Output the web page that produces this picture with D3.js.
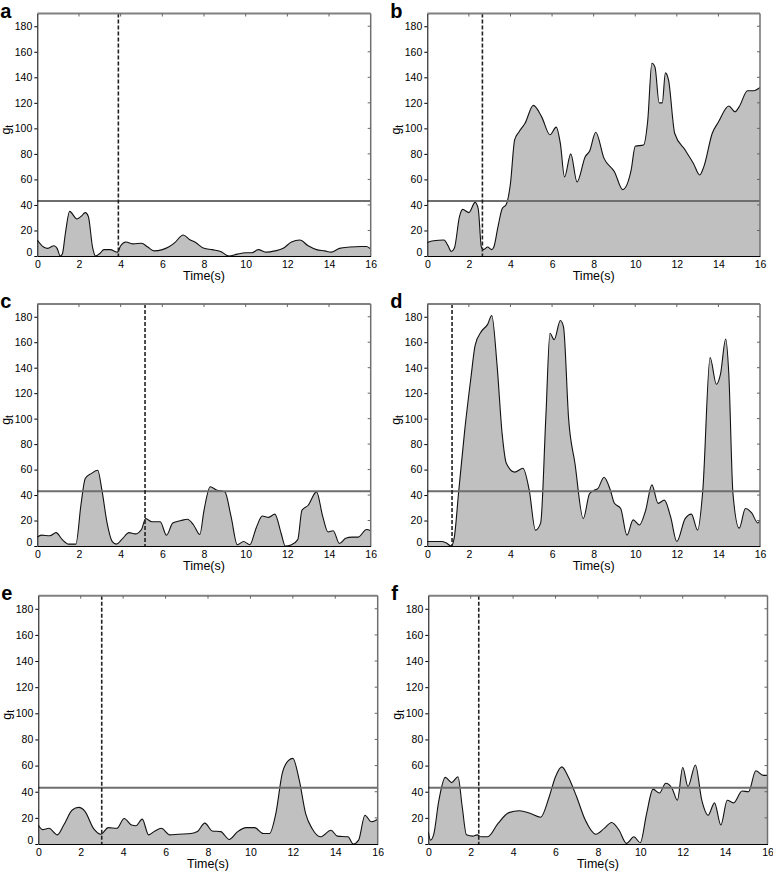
<!DOCTYPE html>
<meta charset="utf-8">
<script src="https://d3js.org/d3.v7.min.js"></script>
<style>
  body { margin: 0; background: #fff; }
  text { font-family: "Liberation Sans", Arial, sans-serif; fill: #000; }
</style>
<svg id="fig" width="773" height="872"></svg>
<script>
// axis ticks
var xTicks = [0, 2, 4, 6, 8, 10, 12, 14, 16];
var yTicks = [0, 20, 40, 60, 80, 100, 120, 140, 160, 180];
var threshold = 43;

// panel a
var aTime = [0, 0.3, 0.5, 0.8, 0.95, 1.1, 1.2, 1.35, 1.55, 1.9, 2.1, 2.3, 2.45, 2.65, 2.8, 3.0, 3.2, 3.5, 3.85, 4.0, 4.25, 4.6, 5.0, 5.3, 5.6, 6.0, 6.3, 6.6, 7.0, 7.3, 7.6, 8.0, 8.4, 8.8, 9.2, 9.6, 10.0, 10.3, 10.6, 11.0, 11.4, 11.8, 12.2, 12.6, 13.0, 13.4, 13.8, 14.1, 14.5, 15.0, 15.5, 15.8, 16];
var aVal  = [12.5, 7, 6, 8, 6, 0, 1.5, 18, 35, 29, 31, 34, 31, 7, 0, 2, 5, 5, 3, 8, 11, 9.5, 10, 7, 4, 5, 7, 10.5, 16.5, 13, 10.5, 6, 5, 3.5, 0, 1.5, 2.5, 2.5, 5, 3, 4, 6, 11, 12.5, 8, 5, 4, 3, 6, 7, 7.5, 7.5, 5.5];

// panel b
var bTime = [0, 0.3, 0.8, 1.0, 1.15, 1.3, 1.55, 1.7, 2.0, 2.3, 2.45, 2.6, 2.7, 2.9, 3.1, 3.2, 3.4, 3.6, 3.8, 4.0, 4.2, 4.4, 4.7, 5.1, 5.5, 5.9, 6.2, 6.4, 6.6, 6.9, 7.2, 7.6, 7.8, 8.1, 8.5, 9.0, 9.4, 9.8, 10.0, 10.4, 10.6, 10.8, 10.95, 11.15, 11.3, 11.45, 11.6, 11.9, 12.4, 12.8, 13.1, 13.3, 13.7, 14.0, 14.5, 14.8, 15.0, 15.4, 15.7, 16];
var bVal  = [10.5, 12, 12.5, 8, 3.5, 6, 31, 36.5, 34, 42, 37, 7, 5, 7, 5, 7, 23, 37, 40.5, 57, 91, 97, 104, 118, 109, 95, 101, 88, 62, 80, 58, 78, 82, 97, 76.5, 66, 52, 67, 86, 87, 106, 151, 148, 120, 120, 143.5, 138, 96, 83, 72.5, 63.5, 70, 96, 105, 117.5, 113, 117, 129.5, 129.5, 132];

// panel c
var cTime = [0, 0.2, 0.6, 0.9, 1.2, 1.5, 1.85, 2.1, 2.3, 2.6, 2.9, 3.1, 3.35, 3.6, 3.8, 4.1, 4.4, 4.7, 5.0, 5.2, 5.5, 5.9, 6.2, 6.5, 6.9, 7.2, 7.5, 7.8, 8.0, 8.3, 8.6, 9.0, 9.3, 9.6, 9.9, 10.2, 10.5, 10.8, 11.1, 11.4, 11.7, 11.9, 12.2, 12.5, 12.7, 13.0, 13.4, 13.7, 13.95, 14.2, 14.5, 14.8, 15.1, 15.4, 15.8, 16];
var cVal  = [7, 8.5, 8, 10.5, 5, 1.5, 1.5, 33, 53, 57, 59.5, 44, 18, 3.5, 1.5, 6, 10.5, 9.5, 13, 21.5, 19, 19, 8.5, 18, 20, 21, 16.5, 9, 28, 46.5, 44, 42.5, 23, 1, 3.5, 1, 14, 23.5, 22.5, 25, 10, 0, 1, 5, 28, 32, 42.5, 23, 11, 12, 2, 6, 7, 7, 13, 12];

// panel d
var dTime = [0, 0.7, 0.9, 1.15, 1.3, 1.5, 1.8, 2.1, 2.3, 2.6, 2.9, 3.1, 3.35, 3.6, 3.8, 4.2, 4.6, 4.9, 5.2, 5.45, 5.7, 5.9, 6.1, 6.4, 6.55, 6.8, 7.1, 7.5, 7.8, 8.0, 8.2, 8.5, 8.8, 9.0, 9.3, 9.6, 9.9, 10.2, 10.5, 10.8, 11.1, 11.4, 11.7, 12.0, 12.4, 12.7, 13.0, 13.25, 13.6, 13.9, 14.1, 14.35, 14.5, 14.7, 15.0, 15.3, 15.6, 15.9, 16];
var dVal  = [3.5, 3.5, 2.5, 0, 7, 41, 91, 132.5, 157.5, 168.5, 174, 181, 143, 88, 65, 58, 61, 44, 12.5, 18, 101, 167, 162, 177, 172, 99, 65, 21.5, 41, 43.5, 45, 54, 44, 33.5, 29.5, 8.5, 20.5, 16.5, 28, 48, 33.5, 36, 23, 3.5, 21.5, 25, 12.5, 44, 148, 127, 135, 162.5, 135, 41, 14, 29.5, 26, 18, 20.5];

// panel e
var eTime = [0, 0.2, 0.5, 0.9, 1.2, 1.6, 1.9, 2.2, 2.6, 2.95, 3.3, 3.7, 4.05, 4.4, 4.6, 4.9, 5.2, 5.5, 5.8, 6.2, 6.6, 7.2, 7.5, 7.85, 8.2, 8.6, 9.0, 9.4, 9.8, 10.2, 10.6, 10.9, 11.2, 11.5, 11.8, 12.0, 12.3, 12.6, 12.9, 13.3, 13.8, 14.1, 14.6, 14.85, 15.1, 15.4, 15.7, 16];
var eVal  = [14.5, 11, 12, 7, 14.5, 26, 28, 25, 12, 7.5, 12.5, 12, 19.5, 14.5, 14, 19, 7, 10, 12, 7, 7.5, 8, 9.5, 16, 10, 9.5, 3.5, 9.5, 12.5, 12.5, 8, 8, 23.5, 54, 64, 65.5, 49, 23.5, 12, 5.5, 10.5, 6, 5.5, 0, 3, 22, 17, 19];

// panel f
var fTime = [0, 0.1, 0.25, 0.5, 0.8, 1.1, 1.4, 1.6, 1.8, 2.1, 2.3, 2.5, 2.8, 3.3, 3.8, 4.3, 4.8, 5.3, 5.7, 6.0, 6.3, 6.6, 7.0, 7.4, 7.9, 8.3, 8.65, 9.0, 9.35, 9.7, 10.0, 10.3, 10.6, 10.9, 11.2, 11.5, 11.75, 12.0, 12.25, 12.6, 12.9, 13.2, 13.5, 13.8, 14.1, 14.4, 14.8, 15.1, 15.45, 15.8, 16];
var fVal  = [9.5, 3, 7, 33.5, 51, 47, 51.5, 28.5, 7, 6, 7, 5.5, 5.5, 16, 24, 25.5, 23.5, 20.5, 36, 51.5, 59, 51.5, 36, 18.5, 7.5, 12, 16.5, 10.5, 0.5, 5.5, 1, 23.5, 42, 39, 46.5, 42.5, 33.5, 58.5, 44, 60.5, 33.5, 22, 31.5, 14.5, 33.5, 31.5, 40.5, 40, 56, 52.5, 52.5];

// onset marker (dashed line) per panel
var letters = ["a", "b", "c", "d", "e", "f"];
var onsets = [3.89, 2.65, 5.17, 1.19, 2.99, 2.38];
var times = [aTime, bTime, cTime, dTime, eTime, fTime];
var values = [aVal, bVal, cVal, dVal, eVal, fVal];

// panel placement
var boxes = [
  {l: 37.3, r: 370.7, t: 13.5, b: 256},
  {l: 427.3, r: 760, t: 13.5, b: 256},
  {l: 37.3, r: 370.7, t: 304, b: 546},
  {l: 427.3, r: 760, t: 304, b: 546},
  {l: 38.3, r: 377.7, t: 595.7, b: 844},
  {l: 428.3, r: 767.5, t: 595.7, b: 844}
];

var svg = d3.select("#fig");

boxes.forEach(function(bx, i) {
  var x = d3.scaleLinear().domain([0, 16]).range([bx.l, bx.r]);
  var y = d3.scaleLinear().domain([0, 190]).range([bx.b, bx.t]);
  var g = svg.append("g");
  var data = times[i].map(function(t, k) { return [t, values[i][k]]; });

  g.append("clipPath").attr("id", "clip" + i)
    .append("rect").attr("x", bx.l).attr("y", bx.t)
    .attr("width", bx.r - bx.l).attr("height", bx.b - bx.t);

  var area = d3.area().x(d => x(d[0])).y0(y(0)).y1(d => y(d[1])).curve(d3.curveMonotoneX);
  var line = d3.line().x(d => x(d[0])).y(d => y(d[1])).curve(d3.curveMonotoneX);

  var plot = g.append("g").attr("clip-path", "url(#clip" + i + ")");
  plot.append("path").datum(data).attr("d", area).attr("fill", "#c0c0c0");
  plot.append("path").datum(data).attr("d", line)
    .attr("fill", "none").attr("stroke", "#111").attr("stroke-width", 1.1);

  // threshold
  g.append("line")
    .attr("x1", bx.l).attr("x2", bx.r)
    .attr("y1", y(threshold)).attr("y2", y(threshold))
    .attr("stroke", "#6e6e6e").attr("stroke-width", 2);

  // onset
  g.append("line")
    .attr("x1", x(onsets[i])).attr("x2", x(onsets[i]))
    .attr("y1", bx.t).attr("y2", bx.b)
    .attr("stroke", "#222").attr("stroke-width", 1.6)
    .attr("stroke-dasharray", "4,2");

  // frame
  g.append("line").attr("x1", bx.l).attr("x2", bx.r).attr("y1", bx.t).attr("y2", bx.t)
    .attr("stroke", "#808080").attr("stroke-width", 2);
  g.append("line").attr("x1", bx.r).attr("x2", bx.r).attr("y1", bx.t).attr("y2", bx.b)
    .attr("stroke", "#707070").attr("stroke-width", 1.5);

  // bottom axis
  var xa = g.append("g").attr("transform", "translate(0," + bx.b + ")")
    .call(d3.axisBottom(x).tickValues(xTicks).tickSize(0).tickPadding(5).tickFormat(d3.format("d")));
  xa.select(".domain").attr("stroke", "#000").attr("stroke-width", 1);
  xa.selectAll("text").style("font-size", "10.5px");

  // left axis
  var ya = g.append("g").attr("transform", "translate(" + bx.l + ",0)")
    .call(d3.axisLeft(y).tickValues(yTicks).tickSizeInner(3).tickSizeOuter(0).tickPadding(2).tickFormat(d3.format("d")));
  ya.select(".domain").attr("stroke", "#000").attr("stroke-width", 1);
  ya.selectAll("text").style("font-size", "10.5px");
  ya.selectAll(".tick").filter(d => d === 0).select("text").attr("dy", "-0.05em");

  // inward ticks on top and right
  g.selectAll(".ttick").data(xTicks.slice(1, -1)).enter().append("line")
    .attr("x1", d => x(d)).attr("x2", d => x(d))
    .attr("y1", bx.t).attr("y2", bx.t + 3)
    .attr("stroke", "#666").attr("stroke-width", 1);
  g.selectAll(".rtick").data(yTicks.slice(1)).enter().append("line")
    .attr("x1", bx.r - 3).attr("x2", bx.r)
    .attr("y1", d => y(d)).attr("y2", d => y(d))
    .attr("stroke", "#666").attr("stroke-width", 1);

  // labels
  g.append("text")
    .attr("x", (bx.l + bx.r) / 2).attr("y", bx.b + 24)
    .attr("text-anchor", "middle").style("font-size", "12.5px")
    .text("Time(s)");

  var yl = g.append("text")
    .attr("transform", "translate(" + (bx.l - 27) + "," + ((bx.t + bx.b) / 2 - 5) + ") rotate(-90)")
    .attr("text-anchor", "middle").style("font-size", "12.5px");
  yl.append("tspan").text("g");
  yl.append("tspan").attr("dy", "0.3em").style("font-size", "10px").text("t");

  g.append("text")
    .attr("x", bx.l - 37).attr("y", bx.t + 4)
    .style("font-size", "20px").style("font-weight", "bold")
    .text(letters[i]);
});
</script>
